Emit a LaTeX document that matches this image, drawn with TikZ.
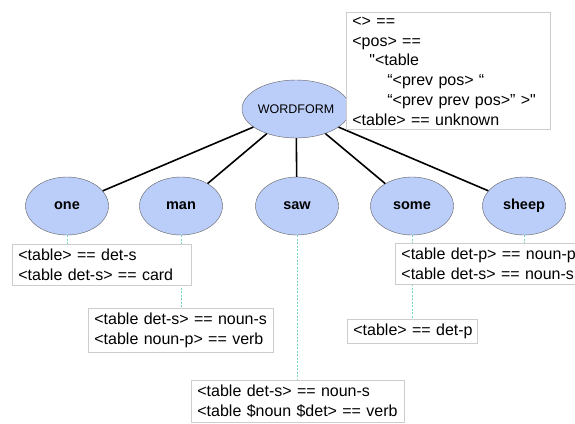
\documentclass[tikz,border=0pt]{standalone}
\usepackage{fontspec}
\setmainfont{Liberation Sans}
\newfontfamily\rulefont{Liberation Sans}
\newcommand\rulestyle{\rulefont\fontsize{16}{19.8}\selectfont\exhyphenpenalty=10000 \hbadness=10000 \hfuzz=20pt\relax}
\definecolor{wordfill}{RGB}{187,206,250}
\definecolor{wordline}{RGB}{95,95,95}
\definecolor{linkcol}{RGB}{120,215,195}
\definecolor{boxline}{RGB}{205,205,205}
\tikzset{
  word/.style={ellipse, draw=wordline, fill=wordfill, minimum width=83pt, minimum height=58pt, inner sep=0pt, font=\fontsize{14.5}{16}\selectfont\bfseries},
  rule/.style={draw=boxline, line width=0.8pt, fill=white, anchor=north west, align=left, inner xsep=6pt, inner ysep=4.5pt, font=\rulestyle},
  link/.style={draw=linkcol, line width=0.8pt, dash pattern=on 2pt off 1.5pt},
}
\usetikzlibrary{shapes.geometric,backgrounds}
\begin{document}
\begin{tikzpicture}[x=1pt,y=-1pt]
\useasboundingbox (0,0) rectangle (575,423);

\begin{scope}[every node/.style={word}]
\node(wf) at(296,109) {\mdseries\fontsize{12.5}{14}\selectfont WORDFORM};
\node(one) at(67,206) {one};
\node(man) at(181,206) {man};
\node(saw) at(297,206) {saw};
\node(some) at(412,206) {some};
\node(sheep) at(524,206) {sheep};
\end{scope}

\draw[line width=1.6pt]
(wf) -- (one)
(wf) -- (man)
(wf) -- (saw)
(wf) -- (some)
(wf) -- (sheep)
;

\begin{scope}[every node/.style={rule}]
\node(wfrule) at(346,12) [text width=192pt] {%
<> ==\\
<pos> ==\\
\hspace*{17pt}"<table\\
\hspace*{35pt}“<prev pos> “\\
\hspace*{35pt}“<prev prev pos>” >"\\
<table> == unknown};
\node(onerule) at(12,244) [text width=167pt] {<table> == det-s\\<table det-s> == card};
\node(manrule) at(88,308) [text width=173pt] {<table det-s> == noun-s\\<table noun-p> == verb};
\node(sawrule) at(191,380) [text width=201pt] {<table det-s> == noun-s\\<table \$noun \$det> == verb};
\node(somerule) at(347,319) [text width=118pt] {\mbox{<table> == det-p}};
\node(sheeprule) at(395,243) [text width=178pt] {<table det-p> == noun-p\\<table det-s> == noun-s};
\end{scope}

\begin{scope}[on background layer]
\draw[link] (wf.east) -- (wf.east -| wfrule.west);
\draw[link] (one.south) -- (one.south |- onerule.north);
\draw[link] (man.south) -- (man.south |- manrule.north);
\draw[link] (saw.south) -- (saw.south |- sawrule.north);
\draw[link] (some.south) -- (some.south |- somerule.north);
\draw[link] (sheep.south) -- (sheep.south |- sheeprule.north);
\end{scope}

\end{tikzpicture}
\end{document}
